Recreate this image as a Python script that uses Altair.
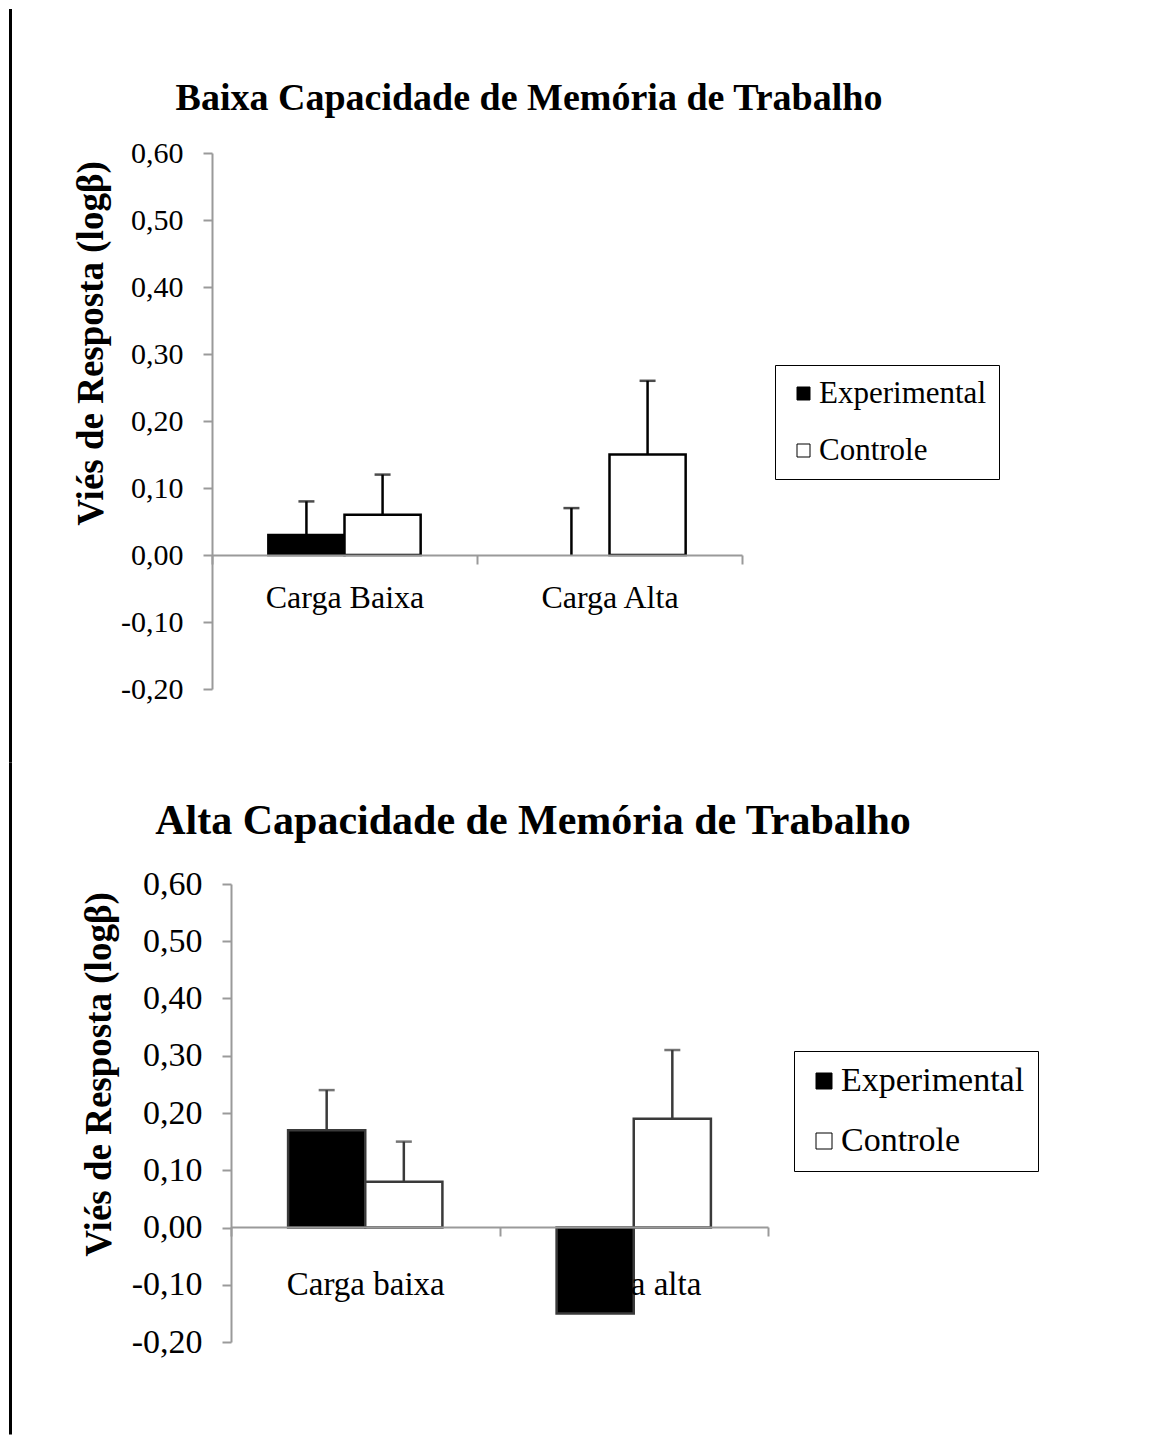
import altair as alt
import pandas as pd

GROUPS = ["Experimental", "Controle"]

TOP_TITLE = "Baixa Capacidade de Memória de Trabalho"
TOP_CATS = ["Carga Baixa", "Carga Alta"]
TOP_EXP = [0.03, 0.00]
TOP_CTRL = [0.06, 0.15]
TOP_EXP_ERR = [0.05, 0.07]
TOP_CTRL_ERR = [0.06, 0.11]

BOT_TITLE = "Alta Capacidade de Memória de Trabalho"
BOT_CATS = ["Carga baixa", "Carga alta"]
BOT_EXP = [0.17, -0.15]
BOT_CTRL = [0.08, 0.19]
BOT_EXP_ERR = [0.07, None]
BOT_CTRL_ERR = [0.07, 0.12]

Y_TICKS = [-0.2, -0.1, 0.0, 0.1, 0.2, 0.3, 0.4, 0.5, 0.6]
Y_TITLE = "Viés de Resposta (logβ)"

SERIF = "Liberation Serif"
GREY = "#9a9a9a"


def frame(cats, exp, ctrl, exp_err, ctrl_err):
    rows = []
    for i, c in enumerate(cats):
        for g, v, e in (("Experimental", exp[i], exp_err[i]),
                        ("Controle", ctrl[i], ctrl_err[i])):
            rows.append({"cat": c, "grp": g, "val": v,
                         "top": round(v + e, 3) if e is not None else None})
    return pd.DataFrame(rows)


def panel(df, cats, title, title_size, title_dx, title_offset, width, height,
          x_shift, zero_offset, ink, tick_font, ytitle_font, ytitle_pad,
          ytitle_y, cat_font, cat_pad, legend_x, legend_y, sym_size, leg_font,
          row_pad, border_x, border_y1, border_y2):
    x = alt.X("cat:N",
              scale=alt.Scale(domain=cats, paddingInner=0, paddingOuter=0,
                              range=[-x_shift, width - x_shift]),
              axis=alt.Axis(title=None, orient="bottom", offset=zero_offset,
                            tickBand="extent", labelAngle=0, labelFont=SERIF,
                            labelFontSize=cat_font, labelColor="black",
                            labelPadding=cat_pad, domainColor=GREY, domainWidth=2,
                            tickColor=GREY, tickWidth=2, tickSize=9, zindex=1))
    xo = alt.XOffset("grp:N",
                     scale=alt.Scale(domain=GROUPS, paddingInner=0,
                                     paddingOuter=0.74))
    y_scale = alt.Scale(domain=[-0.2, 0.6], nice=False, zero=False)
    y_axis = alt.Axis(values=Y_TICKS, offset=x_shift,
                      labelExpr="replace(replace(format(datum.value, '.2f'), '.', ','), '\u2212', '-')",
                      title=Y_TITLE, titleFont=SERIF, titleFontSize=ytitle_font,
                      titleFontWeight="bold", titleColor="black",
                      titlePadding=ytitle_pad, titleY=ytitle_y,
                      labelFont=SERIF,
                      labelFontSize=tick_font, labelColor="black", labelPadding=20,
                      domainColor=GREY, domainWidth=2, tickColor=GREY,
                      tickWidth=2, tickSize=9, grid=False)

    border = alt.Chart(pd.DataFrame({"k": [0]})).mark_rule(
        color="black", strokeWidth=3, strokeCap="square").encode(
        x=alt.value(border_x), y=alt.value(border_y1), y2=alt.value(border_y2))

    bars = alt.Chart(df).transform_filter("datum.val != 0").mark_bar(
        stroke=ink, strokeWidth=2.5).encode(
        x=x, xOffset=xo,
        y=alt.Y("val:Q", scale=y_scale, axis=y_axis), y2=alt.datum(0),
        fill=alt.Fill("grp:N",
                      scale=alt.Scale(domain=GROUPS, range=["black", "white"]),
                      legend=alt.Legend(title=None, orient="none",
                                        legendX=legend_x, legendY=legend_y,
                                        symbolType="square", symbolSize=sym_size,
                                        symbolStrokeColor="black",
                                        symbolStrokeWidth=1,
                                        labelFont=SERIF, labelFontSize=leg_font,
                                        labelColor="black", labelOffset=0,
                                        labelLimit=400,
                                        rowPadding=row_pad, padding=13,
                                        strokeColor="black")))

    errs = alt.Chart(df).transform_filter("isValid(datum.top)").mark_rule(
        color=ink, strokeWidth=2.5).encode(
        x=x, xOffset=xo,
        y=alt.Y("val:Q", scale=y_scale, axis=y_axis), y2="top:Q")
    caps = alt.Chart(df).transform_filter("isValid(datum.top)").mark_tick(
        color=ink, thickness=2.5, size=16, orient="horizontal").encode(
        x=x, xOffset=xo, y=alt.Y("top:Q", scale=y_scale, axis=y_axis))

    return alt.layer(border, bars, errs, caps).properties(
        width=width, height=height,
        title=alt.Title(title, font=SERIF, fontSize=title_size,
                        fontWeight="bold", color="black", anchor="middle",
                        frame="group", dx=title_dx, offset=title_offset))


top_df = frame(TOP_CATS, TOP_EXP, TOP_CTRL, TOP_EXP_ERR, TOP_CTRL_ERR)
bot_df = frame(BOT_CATS, BOT_EXP, BOT_CTRL, BOT_EXP_ERR, BOT_CTRL_ERR)

top = panel(top_df, TOP_CATS, TOP_TITLE, 38, 33, -110, 530, 536,
            19, -134, "black", 30, 37, 10, 190, 32, 18,
            544, 212, 169, 31, 25, -220.5, -142.5, 608)
bottom = panel(bot_df, BOT_CATS, BOT_TITLE, 42, 33.5, -81.5, 537, 458,
               0, -115, "#3a3a3a", 34, 37, 13, 190, 33, 32,
               563, 167, 256, 34, 26, -220.5, -120, 549)

chart = alt.vconcat(top, bottom, spacing=-3).resolve_scale(
    fill="independent", x="independent", y="independent",
    xOffset="independent").resolve_legend(fill="independent").configure_view(
    stroke=None).properties(padding=0)

chart.save("out.html", embed_options={"renderer": "svg", "actions": False})
